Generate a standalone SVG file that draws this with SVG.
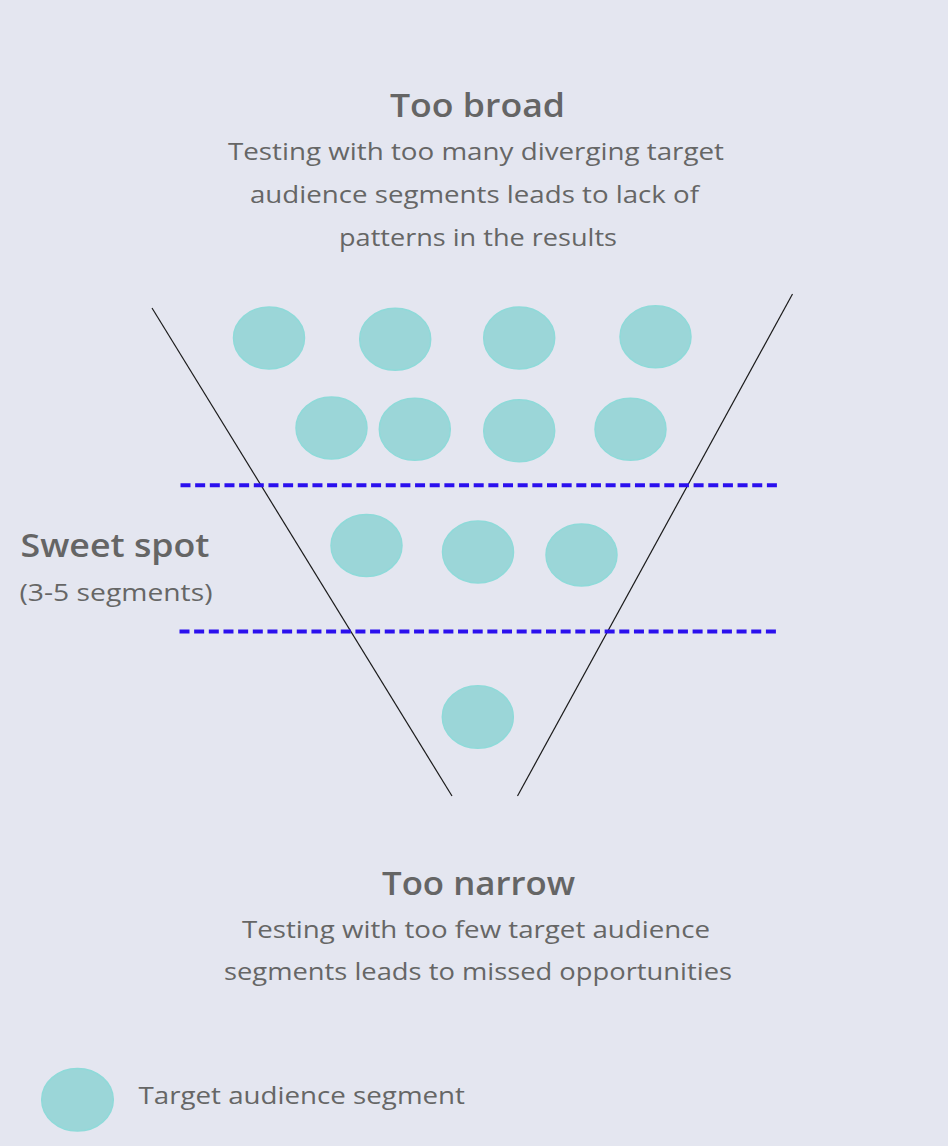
<svg xmlns="http://www.w3.org/2000/svg" width="948" height="1146" viewBox="0 0 948 1146">
<defs>
<style>
.title{font-family:"Open Sans","Liberation Sans",sans-serif;font-weight:600;font-size:33px;fill:#656565}
.body{font-family:"Open Sans","Liberation Sans",sans-serif;font-size:23.5px;fill:#666666}
.seg{fill:#9bd6d8;stroke:#8fdad9;stroke-width:1.5}
.edge{stroke:#1a1a1a;stroke-width:1.2;fill:none}
.dash{stroke:#2b10ee;stroke-width:4;stroke-dasharray:10 4.66;fill:none}
</style>
</defs>
<rect width="948" height="1146" fill="#e4e6f0"/>
<g id="too-broad-label">
<text class="title" x="477.5" y="117" text-anchor="middle" textLength="175" lengthAdjust="spacingAndGlyphs">Too broad</text>
<text class="body" x="476" y="160" text-anchor="middle" textLength="496" lengthAdjust="spacingAndGlyphs">Testing with too many diverging target</text>
<text class="body" x="474.5" y="203" text-anchor="middle" textLength="449" lengthAdjust="spacingAndGlyphs">audience segments leads to lack of</text>
<text class="body" x="478" y="246" text-anchor="middle" textLength="278" lengthAdjust="spacingAndGlyphs">patterns in the results</text>
</g>
<g id="sweet-spot-label">
<text class="title" x="20.5" y="557" textLength="189" lengthAdjust="spacingAndGlyphs">Sweet spot</text>
<text class="body" x="19.5" y="600.5" textLength="193" lengthAdjust="spacingAndGlyphs">(3-5 segments)</text>
</g>
<g id="too-narrow-label">
<text class="title" x="478.5" y="895" text-anchor="middle" textLength="193" lengthAdjust="spacingAndGlyphs">Too narrow</text>
<text class="body" x="476" y="938" text-anchor="middle" textLength="468" lengthAdjust="spacingAndGlyphs">Testing with too few target audience</text>
<text class="body" x="478" y="980" text-anchor="middle" textLength="508" lengthAdjust="spacingAndGlyphs">segments leads to missed opportunities</text>
</g>
<g id="connectors">
<line class="edge" x1="152" y1="308" x2="452" y2="796"/>
<line class="edge" x1="792.5" y1="294" x2="517.5" y2="796"/>
<line class="dash" x1="180.5" y1="485.3" x2="777" y2="485.3"/>
<line class="dash" x1="179.5" y1="631.6" x2="777" y2="631.6"/>
</g>
<g id="segments-broad">
<ellipse class="seg" cx="269" cy="338" rx="35.5" ry="31"/>
<ellipse class="seg" cx="395.2" cy="339.2" rx="35.5" ry="31"/>
<ellipse class="seg" cx="519.2" cy="338" rx="35.5" ry="31"/>
<ellipse class="seg" cx="655.5" cy="336.7" rx="35.5" ry="31"/>
<ellipse class="seg" cx="331.5" cy="428" rx="35.5" ry="31"/>
<ellipse class="seg" cx="414.8" cy="429.3" rx="35.5" ry="31"/>
<ellipse class="seg" cx="519.2" cy="430.7" rx="35.5" ry="31"/>
<ellipse class="seg" cx="630.5" cy="429.3" rx="35.5" ry="31"/>
</g>
<g id="segments-sweet">
<ellipse class="seg" cx="366.5" cy="545.5" rx="35.5" ry="31"/>
<ellipse class="seg" cx="478" cy="552" rx="35.5" ry="31"/>
<ellipse class="seg" cx="581.5" cy="555" rx="35.5" ry="31"/>
</g>
<g id="segments-narrow">
<ellipse class="seg" cx="477.8" cy="717" rx="35.5" ry="31.2"/>
</g>
<g id="legend">
<ellipse class="seg" cx="77.5" cy="1099.7" rx="35.8" ry="31.3"/>
<text class="body" x="138.5" y="1104.3" textLength="326.5" lengthAdjust="spacingAndGlyphs">Target audience segment</text>
</g>
</svg>
